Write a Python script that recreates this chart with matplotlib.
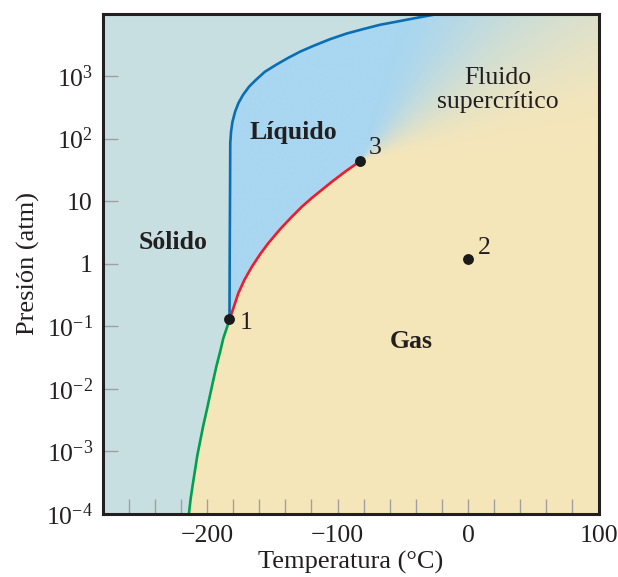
import numpy as np
import matplotlib
matplotlib.use("Agg")
import matplotlib.pyplot as plt
from matplotlib.patches import Polygon
from matplotlib.ticker import NullLocator

# curves: temperature (degC), log10 pressure (atm)
green_T = [-213.9, -212.5, -211.0, -209.2, -207.4, -205.1, -202.8, -200.2, -197.7,
           -195.2, -192.6, -190.0, -187.5, -184.9, -182.8]
green_logP = [-4.00, -3.75, -3.54, -3.30, -3.06, -2.82, -2.58, -2.34, -2.10,
              -1.86, -1.62, -1.41, -1.19, -1.03, -0.89]

red_T = [-182.8, -179.8, -176.0, -171.4, -165.7, -159.4, -153.0, -144.1, -135.1,
         -127.4, -119.8, -112.1, -104.4, -94.3, -82.8]
red_logP = [-0.89, -0.71, -0.47, -0.26, -0.05, 0.15, 0.33, 0.55, 0.75,
            0.91, 1.05, 1.18, 1.31, 1.47, 1.64]

blue_T = [-182.8, -182.6, -182.4, -182.2, -181.6, -180.5, -178.5, -175.9, -172.4,
          -167.8, -162.5, -155.6, -147.1, -137.9, -128.7, -118.8, -105.7, -93.0,
          -80.5, -67.4, -54.6, -42.1, -29.1, -21.5]
blue_logP = [-0.89, 0.22, 1.02, 1.93, 2.11, 2.27, 2.43, 2.57, 2.70,
             2.83, 2.94, 3.07, 3.18, 3.29, 3.39, 3.48, 3.59, 3.68,
             3.75, 3.82, 3.87, 3.92, 3.97, 4.00]

# numbered points: triple point, an example state, critical point
pt_T = [-182.8, 0.0, -82.8]
pt_P = [0.13, 1.2, 44.0]
pt_lab = ["1", "2", "3"]

xticks = [-200, -100, 0, 100]
xticklabels = ["\u2212200", "\u2212100", "0", "100"]
yticks = [1e-4, 1e-3, 1e-2, 1e-1, 1, 10, 1e2, 1e3]
yticklabels = ["$10^{-4}$", "$10^{-3}$", "$10^{-2}$", "$10^{-1}$", "1", "10", "$10^{2}$", "$10^{3}$"]

XMIN, XMAX, YMIN, YMAX = -280, 100, 1e-4, 1e4

C_SOLID = "#c8dfe1"
C_LIQ = np.array([169, 214, 240]) / 255
C_GAS = np.array([245, 230, 186]) / 255
INK = "#231f20"

plt.rcParams["font.family"] = "Liberation Serif"
plt.rcParams["mathtext.fontset"] = "custom"
plt.rcParams["mathtext.rm"] = "Liberation Serif"
plt.rcParams["mathtext.it"] = "Liberation Serif:italic"
FS = 18.5

fig = plt.figure(figsize=(6.18, 5.77), dpi=100)
ax = fig.add_axes([102.6 / 618, 63 / 577, 496 / 618, 500.5 / 577])
ax.set_yscale("log")
ax.set_xlim(XMIN, XMAX)
ax.set_ylim(YMIN, YMAX)
ax.set_facecolor(C_GAS)

gT, gP = np.array(green_T), 10 ** np.array(green_logP)
rT, rP = np.array(red_T), 10 ** np.array(red_logP)
bT, bP = np.array(blue_T), 10 ** np.array(blue_logP)

# solid region: left of sublimation + melting curves
solid = np.vstack([[XMIN, YMIN], np.c_[gT, gP], np.c_[bT[1:], bP[1:]], [XMIN, YMAX]])
ax.add_patch(Polygon(solid, closed=True, fc=C_SOLID, ec="none", zorder=1))

# fluid region above the vaporization curve, shaded by angle around critical point
fluid = np.vstack([np.c_[bT, bP], [XMAX, YMAX], [XMAX, rP[-1]], np.c_[rT[::-1], rP[::-1]]])
fpatch = Polygon(fluid, closed=True, fc="none", ec="none", transform=ax.transData)
cx = (rT[-1] - XMIN) / (XMAX - XMIN)
cy = (np.log10(rP[-1]) + 4) / 8
yy, xx = np.mgrid[0:1:400j, 0:1:400j]
ang = np.degrees(np.arctan2((yy - cy) * 500.5, (xx - cx) * 496))
w = np.clip((ang - 6) / (74 - 6), 0, 1)
w = w * w * (3 - 2 * w)
w[ang < -90] = 1
w[ang > 90] = 1
rgb = C_GAS[None, None, :] * (1 - w[..., None]) + C_LIQ[None, None, :] * w[..., None]
im = ax.imshow(rgb, extent=(0, 1, 0, 1), transform=ax.transAxes, origin="lower",
               aspect="auto", interpolation="bilinear", zorder=0.8)
im.set_clip_path(fpatch)
ax.set_xlim(XMIN, XMAX)
ax.set_ylim(YMIN, YMAX)

ax.plot(gT, gP, color="#00a04f", lw=1.9, zorder=3, solid_capstyle="butt")
ax.plot(rT, rP, color="#ec1c2e", lw=1.9, zorder=3, solid_capstyle="butt")
ax.plot(bT, bP, color="#0a6eb4", lw=1.9, zorder=3, solid_capstyle="butt")
ax.plot(pt_T, pt_P, "o", color="#1a1a1a", ms=6.8, zorder=4, ls="none")

offsets = [(7, -3), (7, 8), (6, 9)]
for T, P, s, off in zip(pt_T, pt_P, pt_lab, offsets):
    ax.annotate(s, (T, P), xytext=off, textcoords="offset points", ha="left", va="center",
                fontsize=FS, color=INK, zorder=5)

ax.text(-226, 2.2, "Sólido", fontsize=FS, fontweight="bold", color=INK, ha="center", va="center")
ax.text(-134, 125, "Líquido", fontsize=FS, fontweight="bold", color=INK, ha="center", va="center")
ax.text(-43.7, 0.058, "Gas", fontsize=FS, fontweight="bold", color=INK, ha="center", va="center")
ax.text(23, 600, "Fluido\nsupercrítico", fontsize=FS, color=INK, ha="center", va="center",
        linespacing=1.12)

ax.set_xticks(xticks)
ax.set_xticklabels(xticklabels)
ax.set_xticks([t for t in range(-260, 100, 20) if t not in xticks], minor=True)
ax.set_yticks(yticks)
ax.set_yticklabels(yticklabels)
ax.yaxis.set_minor_locator(NullLocator())
ax.tick_params(which="both", direction="in", length=10.5, width=1, color="#a0a0a0",
               labelsize=FS, labelcolor=INK)
ax.tick_params(axis="x", which="both", pad=8)
ax.tick_params(axis="y", pad=7)
for sp in ax.spines.values():
    sp.set_linewidth(2.2)
    sp.set_color("#231f20")
    sp.set_zorder(6)

ax.set_xlabel("Temperatura (°C)", fontsize=19, color=INK, labelpad=3)
ax.set_ylabel("Presión (atm)", fontsize=19, color=INK, labelpad=4)

fig.savefig("out.png", dpi=100)
